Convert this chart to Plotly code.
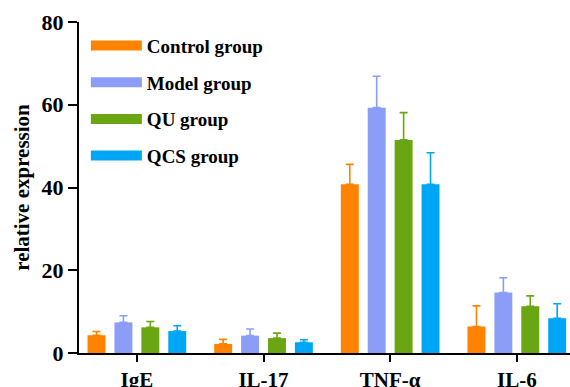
import plotly.graph_objects as go

# Cytokine categories and group statistics (mean and upper SD)
categories = ["IgE", "IL-17", "TNF-α", "IL-6"]
groups = ["Control group", "Model group", "QU group", "QCS group"]
colors = ["#FF8300", "#8B9DF7", "#6AA514", "#00A6F6"]

control_mean = [4.3, 2.2, 40.8, 6.4]
control_sd = [0.9, 1.1, 4.8, 5.0]
model_mean = [7.4, 4.2, 59.3, 14.6]
model_sd = [1.6, 1.6, 7.6, 3.6]
qu_mean = [6.2, 3.6, 51.5, 11.3]
qu_sd = [1.4, 1.2, 6.6, 2.5]
qcs_mean = [5.3, 2.6, 40.8, 8.4]
qcs_sd = [1.3, 0.6, 7.6, 3.5]

y_ticks = [0, 20, 40, 60, 80]

means = [control_mean, model_mean, qu_mean, qcs_mean]
sds = [control_sd, model_sd, qu_sd, qcs_sd]

FONT = "Liberation Serif, Times New Roman, serif"

fig = go.Figure()
for name, color, m, s in zip(groups, colors, means, sds):
    fig.add_trace(go.Bar(
        x=categories, y=m, name=name, showlegend=False,
        marker=dict(color=color, line=dict(width=0)),
        error_y=dict(type="data", array=s, arrayminus=[0] * len(s), symmetric=False,
                     color=color, thickness=1.6, width=4),
    ))

# Legend entries drawn as thick line swatches
for i, (name, color) in enumerate(zip(groups, colors)):
    fig.add_trace(go.Scatter(
        x=[None], y=[None], mode="lines", name=name, legendgroup=f"g{i}",
        line=dict(color=color, width=10),
    ))

fig.update_layout(
    width=570, height=387,
    margin=dict(l=79, r=0, t=22, b=34),
    plot_bgcolor="white", paper_bgcolor="white",
    barmode="group", bargap=0.15, bargroupgap=0.333,
    font=dict(family=FONT, color="black"),
    legend=dict(
        x=0.014, y=0.986, xanchor="left", yanchor="top",
        font=dict(family=FONT, size=19, color="black", weight="bold"),
        tracegroupgap=9, itemwidth=51, bgcolor="rgba(0,0,0,0)",
    ),
    xaxis=dict(
        range=[-0.457, 3.42], showline=True, linecolor="black", linewidth=2,
        ticks="outside", ticklen=7, tickwidth=2, tickcolor="black", automargin=False,
        tickfont=dict(family=FONT, size=21, weight="bold"), showgrid=False,
    ),
    yaxis=dict(
        range=[0, 80], tickvals=y_ticks, showline=True, linecolor="black", linewidth=2,
        ticks="outside", ticklen=9, tickwidth=2, tickcolor="black", automargin=False,
        tickfont=dict(family=FONT, size=22, weight="bold"), showgrid=False, zeroline=False,
        title=dict(text="relative expression", font=dict(family=FONT, size=21, weight="bold"),
                   standoff=6),
    ),
)

fig.write_html("out.html")
